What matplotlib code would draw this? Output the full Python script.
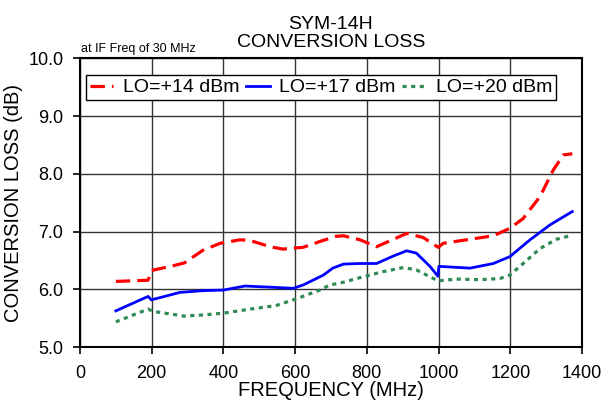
import matplotlib
matplotlib.use('Agg')
import matplotlib.pyplot as plt
from matplotlib.ticker import FormatStrFormatter

plt.rcParams['font.family'] = ['Liberation Sans', 'DejaVu Sans']

# LO=+14 dBm
f14 = [100, 190, 200, 259, 291, 343, 391, 446, 474, 530, 566, 622, 678, 714, 735,
       781, 827, 874, 911, 957, 999, 1013, 1088, 1153, 1199, 1236, 1283, 1320, 1348, 1373]
cl14 = [6.14, 6.16, 6.33, 6.41, 6.46, 6.68, 6.80, 6.86, 6.85, 6.74, 6.70, 6.73, 6.85, 6.92, 6.93,
        6.86, 6.74, 6.87, 6.97, 6.90, 6.73, 6.80, 6.87, 6.93, 7.06, 7.23, 7.61, 8.07, 8.33, 8.35]

# LO=+17 dBm
f17 = [100, 190, 199, 279, 344, 400, 460, 530, 595, 623, 679, 705, 735, 781,
       827, 874, 911, 938, 976, 998, 1001, 1088, 1153, 1199, 1255, 1311, 1373]
cl17 = [5.63, 5.88, 5.82, 5.95, 5.98, 5.99, 6.06, 6.04, 6.02, 6.08, 6.25, 6.37, 6.44, 6.45,
        6.45, 6.58, 6.67, 6.63, 6.40, 6.23, 6.40, 6.37, 6.45, 6.57, 6.86, 7.12, 7.35]

# LO=+20 dBm
f20 = [100, 190, 205, 290, 344, 400, 474, 546, 604, 669, 697, 725, 790, 846, 902,
       938, 976, 999, 1050, 1116, 1171, 1199, 1236, 1283, 1329, 1373]
cl20 = [5.44, 5.66, 5.62, 5.54, 5.56, 5.59, 5.66, 5.72, 5.84, 5.99, 6.08, 6.11, 6.22, 6.31, 6.38,
        6.34, 6.22, 6.15, 6.18, 6.17, 6.19, 6.25, 6.45, 6.71, 6.87, 6.94]

xticks = [0, 200, 400, 600, 800, 1000, 1200, 1400]
yticks = [5.0, 6.0, 7.0, 8.0, 9.0, 10.0]

fig = plt.figure(figsize=(6.05, 4.09), dpi=100)
ax = fig.add_axes([0.1322, 0.151, 0.8298, 0.706])

ax.plot(f14, cl14, color='#FF0000', lw=2.3, dashes=(4.5, 2.2), label='LO=+14 dBm')
ax.plot(f17, cl17, color='#0000FF', lw=2.0, label='LO=+17 dBm')
ax.plot(f20, cl20, color='#2E8B57', lw=2.3, dashes=(1.3, 1.4), label='LO=+20 dBm')

ax.set_xlim(0, 1400)
ax.set_ylim(5.0, 10.0)
ax.set_xticks(xticks)
ax.set_yticks(yticks)
ax.yaxis.set_major_formatter(FormatStrFormatter('%.1f'))
ax.grid(True, color='#333333', lw=1.0)
ax.set_axisbelow(True)
for s in ax.spines.values():
    s.set_linewidth(1.5)
ax.tick_params(direction='out', length=5, width=1.2, labelsize=13)
ax.tick_params(axis='x', pad=8)
ax.tick_params(axis='y', pad=7)

ax.set_xlabel('FREQUENCY (MHz)', fontsize=14.5, labelpad=-1)
ax.set_ylabel('CONVERSION LOSS (dB)', fontsize=14.5, labelpad=4)
ax.set_title('SYM-14H\nCONVERSION LOSS', fontsize=14, pad=8, linespacing=1.1)
fig.text(0.1335, 0.872, 'at IF Freq of 30 MHz', fontsize=9, ha='left', va='baseline')

leg = ax.legend(loc='upper left', bbox_to_anchor=(0.012, 0.943), ncol=3, fontsize=14,
                frameon=True, fancybox=False, edgecolor='black', framealpha=1,
                borderpad=0.2, borderaxespad=0, handlelength=1.2, handletextpad=0.5,
                columnspacing=0.35)
leg.get_frame().set_linewidth(1.0)

fig.savefig('out.png', dpi=100)
